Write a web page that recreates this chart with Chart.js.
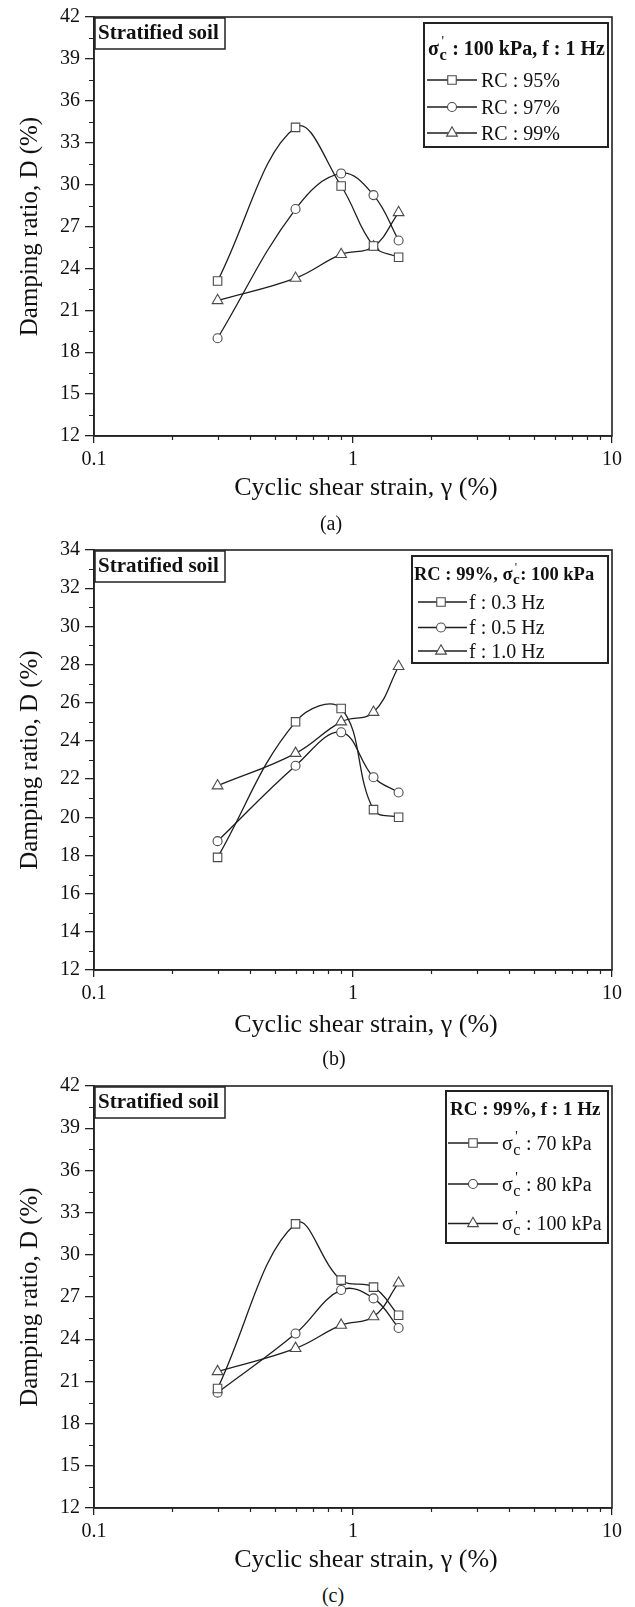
<!DOCTYPE html>
<html>
<head>
<meta charset="utf-8">
<script src="https://cdn.jsdelivr.net/npm/chart.js@4.4.1/dist/chart.umd.min.js"></script>
<style>
  body { margin: 0; background: #fff; }
  #page { position: relative; width: 635px; height: 1607px; font-family: "Liberation Serif", "Times New Roman", serif; color: #111; }
  canvas { position: absolute; left: 0; }
  .cap { position: absolute; width: 60px; text-align: center; font-size: 20px; line-height: 24px; }
</style>
</head>
<body>
<div id="page">
  <canvas id="chartA" width="635" height="510" style="top:0px"></canvas>
  <canvas id="chartB" width="635" height="510" style="top:533px"></canvas>
  <canvas id="chartC" width="635" height="510" style="top:1069px"></canvas>
  <div class="cap" style="left:301px;top:511px">(a)</div>
  <div class="cap" style="left:304px;top:1046px">(b)</div>
  <div class="cap" style="left:303px;top:1583px">(c)</div>
</div>
<script>
const FONT = "'Liberation Serif', 'Times New Roman', serif";

// shared x values (cyclic shear strain, %)
const strain = [0.3, 0.6, 0.9, 1.2, 1.5];
const xTicks = [0.1, 1, 10];

// (a) effect of relative compaction
const labelsA = ["RC : 95%", "RC : 97%", "RC : 99%"];
const dampRC95 = [23.1, 34.1, 29.9, 25.6, 24.8];
const dampRC97 = [19.0, 28.25, 30.8, 29.25, 26.0];
const dampRC99 = [21.7, 23.3, 25.0, 25.55, 28.0];
const yTicksA = [12, 15, 18, 21, 24, 27, 30, 33, 36, 39, 42];
const legendTitleA = "σc' : 100 kPa, f : 1 Hz";

// (b) effect of loading frequency
const labelsB = ["f : 0.3 Hz", "f : 0.5 Hz", "f : 1.0 Hz"];
const dampF03 = [17.9, 25.0, 25.7, 20.4, 20.0];
const dampF05 = [18.75, 22.7, 24.45, 22.1, 21.3];
const dampF10 = [21.65, 23.35, 25.0, 25.5, 27.9];
const yTicksB = [12, 14, 16, 18, 20, 22, 24, 26, 28, 30, 32, 34];
const legendTitleB = "RC : 99%, σc': 100 kPa";

// (c) effect of confining pressure
const labelsC = ["σc' : 70 kPa", "σc' : 80 kPa", "σc' : 100 kPa"];
const dampS70 = [20.5, 32.2, 28.2, 27.7, 25.7];
const dampS80 = [20.2, 24.4, 27.5, 26.9, 24.8];
const dampS100 = [21.7, 23.35, 25.0, 25.6, 28.0];
const yTicksC = [12, 15, 18, 21, 24, 27, 30, 33, 36, 39, 42];
const legendTitleC = "RC : 99%, f : 1 Hz";

const noteText = "Stratified soil";
const xTitle = "    Cyclic shear strain, γ (%)";
const yTitle = "Damping ratio, D (%)";

const markerStyles = ["rect", "circle", "triangle"];
const markerRadius = [6, 4.5, 6.2];

// text with σ'c (prime over a subscript c)
function drawRich(ctx, str, x, yMid, size, bold) {
  const w = bold ? "bold " : "";
  const base = yMid + size * 0.33;
  const parts = str.split("σc'");
  let cx = x;
  ctx.textAlign = "left";
  ctx.textBaseline = "alphabetic";
  parts.forEach((p, i) => {
    if (i > 0) {
      ctx.font = `${w}${size}px ${FONT}`;
      ctx.fillText("σ", cx, base);
      cx += ctx.measureText("σ").width;
      const s = size * 0.82;
      ctx.font = `${w}${s}px ${FONT}`;
      ctx.fillText("c", cx + 0.5, base + size * 0.26);
      const cw = ctx.measureText("c").width;
      ctx.font = `${size * 0.7}px ${FONT}`;
      ctx.fillText("'", cx + cw * 0.35, base - size * 0.45);
      cx += cw + 1;
    }
    ctx.font = `${w}${size}px ${FONT}`;
    ctx.fillText(p, cx, base);
    cx += ctx.measureText(p).width;
  });
}

const panelDecor = {
  id: "panelDecor",
  afterDraw(chart, args, o) {
    const { ctx, chartArea: a } = chart;
    const xs = chart.scales.x, ys = chart.scales.y;
    ctx.save();
    ctx.strokeStyle = "#222";
    ctx.fillStyle = "#111";

    // frame
    ctx.lineWidth = 1.6;
    ctx.strokeRect(a.left, a.top, a.right - a.left, a.bottom - a.top);

    // minor ticks
    ctx.lineWidth = 1.2;
    ctx.beginPath();
    for (let i = 0; i < o.yMajor.length - 1; i++) {
      const py = Math.round(ys.getPixelForValue((o.yMajor[i] + o.yMajor[i + 1]) / 2)) + 0.5;
      ctx.moveTo(a.left - 5, py);
      ctx.lineTo(a.left, py);
    }
    [0.1, 1].forEach(dec => {
      for (let k = 2; k <= 9; k++) {
        const px = Math.round(xs.getPixelForValue(k * dec)) + 0.5;
        ctx.moveTo(px, a.bottom);
        ctx.lineTo(px, a.bottom + 4);
      }
    });
    ctx.stroke();

    // note box
    ctx.fillStyle = "#fff";
    ctx.fillRect(a.left + 1, a.top + 1, 130, 31);
    ctx.lineWidth = 1.5;
    ctx.strokeRect(a.left + 1, a.top + 1, 130, 31);
    ctx.fillStyle = "#111";
    ctx.font = `bold 21px ${FONT}`;
    ctx.textBaseline = "middle";
    ctx.textAlign = "left";
    ctx.fillText(noteText, a.left + 4, a.top + 17);

    // legend box
    const L = o.legend;
    const bx = a.right - L.dx - L.w, by = a.top + L.dy;
    ctx.fillStyle = "#fff";
    ctx.fillRect(bx, by, L.w, L.h);
    ctx.lineWidth = 2;
    ctx.strokeRect(bx, by, L.w, L.h);
    ctx.fillStyle = "#111";
    drawRich(ctx, L.title, bx + L.titleX, by + L.titleY, L.titleSize, true);

    chart.data.datasets.forEach((ds, i) => {
      const ry = by + L.rows[i];
      ctx.strokeStyle = "#1e1e1e";
      ctx.lineWidth = 1.3;
      ctx.beginPath();
      ctx.moveTo(bx + L.line[0], ry);
      ctx.lineTo(bx + L.line[1], ry);
      ctx.stroke();
      ctx.fillStyle = "#fff";
      ctx.strokeStyle = "#4a4a4a";
      ctx.lineWidth = 1.1;
      Chart.helpers.drawPoint(ctx, { pointStyle: ds.pointStyle, radius: ds.pointRadius, rotation: 0, borderWidth: 1.1 },
        bx + L.marker, ry);
      ctx.fillStyle = "#111";
      drawRich(ctx, ds.label, bx + L.textX, ry, L.size, false);
    });
    ctx.restore();
  }
};

function makePanel(id, labels, series, yMajor, cfg) {
  return new Chart(document.getElementById(id), {
    type: "line",
    data: {
      datasets: series.map((vals, i) => ({
        label: labels[i],
        data: strain.map((x, j) => ({ x: x, y: vals[j] })),
        borderColor: "#1e1e1e",
        borderWidth: 1.3,
        tension: 0.4,
        fill: false,
        pointStyle: markerStyles[i],
        pointRadius: markerRadius[i],
        pointBackgroundColor: "#fff",
        pointBorderColor: "#4a4a4a",
        pointBorderWidth: 1.1
      }))
    },
    options: {
      responsive: false,
      animation: false,
      layout: { padding: { top: 17, right: 23, left: 0, bottom: 0 } },
      plugins: {
        legend: { display: false },
        tooltip: { enabled: false },
        panelDecor: { yMajor: yMajor, legend: cfg.legend }
      },
      scales: {
        x: {
          type: "logarithmic",
          min: xTicks[0],
          max: xTicks[xTicks.length - 1],
          afterBuildTicks: s => { s.ticks = xTicks.map(v => ({ value: v })); },
          afterFit: s => { s.height = cfg.xAxisHeight; },
          ticks: { callback: v => String(v), color: "#111", font: { family: FONT, size: 20 }, padding: 5, maxRotation: 0 },
          grid: { drawOnChartArea: false, tickLength: 7, color: "#222", lineWidth: 1.3 },
          border: { color: "#222", width: 1.6 },
          title: { display: true, text: xTitle, color: "#111", font: { family: FONT, size: 26 }, padding: { top: 0, bottom: cfg.xTitlePad } }
        },
        y: {
          type: "linear",
          min: yMajor[0],
          max: yMajor[yMajor.length - 1],
          afterBuildTicks: s => { s.ticks = yMajor.map(v => ({ value: v })); },
          afterFit: s => { s.width = 94; },
          ticks: { callback: v => String(v), color: "#111", font: { family: FONT, size: 20 }, padding: 5 },
          grid: { drawOnChartArea: false, tickLength: 9, color: "#222", lineWidth: 1.3 },
          border: { color: "#222", width: 1.6 },
          title: { display: true, text: yTitle, color: "#111", font: { family: FONT, size: 25 }, padding: { top: 15, bottom: 0 } }
        }
      }
    },
    plugins: [panelDecor]
  });
}

makePanel("chartA", labelsA, [dampRC95, dampRC97, dampRC99], yTicksA, {
  xAxisHeight: 74, xTitlePad: 6,
  legend: { title: legendTitleA, w: 184, h: 124, dx: 4, dy: 6, titleX: 4, titleY: 25, titleSize: 20,
    rows: [57, 84, 110], line: [3, 53], marker: 28, textX: 57, size: 20 }
});

makePanel("chartB", labelsB, [dampF03, dampF05, dampF10], yTicksB, {
  xAxisHeight: 73, xTitlePad: 2,
  legend: { title: legendTitleB, w: 196, h: 107, dx: 4, dy: 6, titleX: 2, titleY: 17.5, titleSize: 18.5,
    rows: [46, 71.5, 95], line: [6, 55], marker: 29, textX: 57, size: 20 }
});

makePanel("chartC", labelsC, [dampS70, dampS80, dampS100], yTicksC, {
  xAxisHeight: 71, xTitlePad: 3,
  legend: { title: legendTitleC, w: 162, h: 152, dx: 4, dy: 5, titleX: 4, titleY: 18, titleSize: 19,
    rows: [52, 93, 132.5], line: [2, 52], marker: 27, textX: 56, size: 20 }
});
</script>
</body>
</html>
